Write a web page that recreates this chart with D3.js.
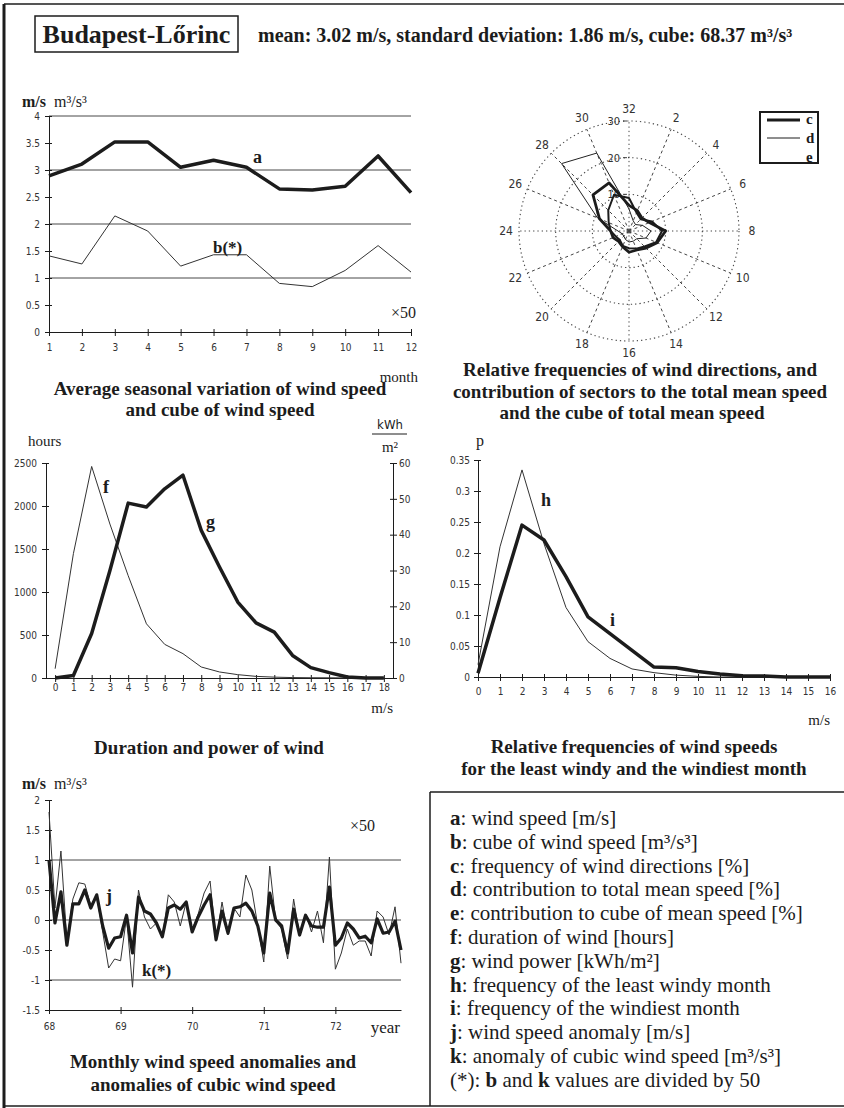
<!DOCTYPE html>
<html><head><meta charset="utf-8">
<script src="https://cdn.jsdelivr.net/npm/d3@7/dist/d3.min.js"></script>
<style>body{margin:0;background:#fff}svg{display:block}</style>
</head><body>
<svg id="chart" width="844" height="1108"></svg>
<script>
// ---------- DATA ----------
const months = [1,2,3,4,5,6,7,8,9,10,11,12];
const windSpeedA = [2.89,3.11,3.52,3.52,3.05,3.18,3.05,2.65,2.63,2.70,3.26,2.58];
const windCubeB  = [1.41,1.26,2.15,1.87,1.22,1.43,1.43,0.90,0.84,1.14,1.60,1.11];
const seasonalTicks = [0,0.5,1,1.5,2,2.5,3,3.5,4];
const seasonalGrid = [1,2,3,4];

const directions = [2,4,6,8,10,12,14,16,18,20,22,24,26,28,30,32];
const freqC    = [6,5,6,10,8.3,6.6,5.6,5.8,4.6,4,4.7,5,8.7,13.9,14.2,7];
const contribD = [3,2.5,4,6,5,3,3,3,2.5,2,2,3,9.3,26,23,6];
const contribE = [5.4,4.5,6.8,9,8,6,5.2,4.7,4.4,3.5,3.9,5,6,8,10.7,9];
const ringValues = [10,20,30];

const speedBins = [0,1,2,3,4,5,6,7,8,9,10,11,12,13,14,15,16,17,18];
const durationF = [108,1446,2460,1790,1190,630,391,283,128,70,39,19,10,5,3,2,1,0,0];
const powerG    = [0,0.7,12.4,30,48.8,47.7,52.8,56.6,41.2,31,21.2,15.4,12.8,6.3,2.9,1.5,0.3,0,0];
const hoursTicks = [0,500,1000,1500,2000,2500];
const powerTicks = [0,10,20,30,40,50,60];

const pBins = [0,1,2,3,4,5,6,7,8,9,10,11,12,13,14,15,16];
const leastWindyH = [0.02,0.21,0.334,0.215,0.112,0.057,0.03,0.013,0.007,0.003,0.001,0,0,0,0,0,0];
const windiestI   = [0.006,0.128,0.245,0.221,0.162,0.097,0.07,0.043,0.016,0.015,0.009,0.005,0.002,0.0015,0,0,0];
const pTicks = [0,0.05,0.1,0.15,0.2,0.25,0.3,0.35];

const anomalyJ = [1.0,-0.05,0.47,-0.42,0.27,0.27,0.5,0.2,0.42,-0.1,-0.47,-0.3,-0.28,0.08,-0.55,0.38,0.15,0.1,-0.05,-0.28,0.2,0.25,0.18,0.3,-0.2,0.05,0.25,0.42,-0.33,0.15,-0.22,0.2,0.22,0.28,0.15,-0.1,-0.55,0.45,0.0,-0.1,-0.55,0.18,-0.25,0.08,-0.1,-0.12,-0.12,0.55,-0.42,-0.3,-0.05,-0.15,-0.3,-0.27,-0.38,0.02,-0.22,-0.2,-0.02,-0.5];
const anomalyK = [1.8,0.2,1.15,-0.35,0.35,0.62,0.6,0.25,0.4,-0.2,-0.8,-0.65,-0.68,0.05,-1.12,0.5,0.05,-0.15,-0.05,-0.3,0.42,0.3,-0.1,0.3,-0.15,0.1,0.45,0.65,-0.35,0.3,-0.25,0.2,0.05,0.75,0.5,-0.1,-0.7,0.9,-0.02,-0.15,-0.65,0.35,-0.25,0.1,-0.2,0.15,-0.38,1.05,-0.82,-0.55,-0.15,-0.42,-0.35,-0.35,-0.6,0.15,0.05,-0.25,0.22,-0.72];
const yearTickIdx = [0,12,24,36,48];
const yearLabels = ["68","69","70","71","72"];
const anomalyTicks = [-1.5,-1,-0.5,0,0.5,1,1.5,2];
const anomalyGrid = [-1,0,1];

const legendItems = [
  [["a",1],[": wind speed [m/s]",0]],
  [["b",1],[": cube of wind speed [m³/s³]",0]],
  [["c",1],[": frequency of wind directions [%]",0]],
  [["d",1],[": contribution to total mean speed [%]",0]],
  [["e",1],[": contribution to cube of mean speed [%]",0]],
  [["f",1],[": duration of wind [hours]",0]],
  [["g",1],[": wind power [kWh/m²]",0]],
  [["h",1],[": frequency of the least windy month",0]],
  [["i",1],[": frequency of the windiest month",0]],
  [["j",1],[": wind speed anomaly [m/s]",0]],
  [["k",1],[": anomaly of cubic wind speed [m³/s³]",0]],
  [["(*): ",0],["b",1],[" and ",0],["k",1],[" values are divided by 50",0]]
];

// ---------- SETUP ----------
const svg = d3.select("#chart");
const SERIF = "'Liberation Serif','Times New Roman',serif";
const NARROW = "'Liberation Sans Narrow','Arial Narrow','DejaVu Sans Condensed',sans-serif";
const INK = "#1c1c1c";
svg.append("rect").attr("width",844).attr("height",1108).attr("fill","#fff");

function txt(x,y,s,o={}){
  return svg.append("text").attr("x",x).attr("y",y).text(s)
    .attr("font-family",o.family||SERIF).attr("font-size",o.size||16)
    .attr("font-weight",o.bold?"bold":"normal").attr("text-anchor",o.anchor||"start")
    .attr("fill",o.fill||INK);
}
function styleAxis(g){
  g.attr("font-family",NARROW).attr("font-size",10);
  g.selectAll("text").attr("fill","#333");
  g.selectAll("path,line").attr("stroke",INK).attr("stroke-width",1);
}
const fmt = d => String(d);

// frame
svg.append("line").attr("x1",4).attr("y1",4).attr("x2",844).attr("y2",4).attr("stroke",INK).attr("stroke-width",1.5);
svg.append("line").attr("x1",4).attr("y1",4).attr("x2",4).attr("y2",1108).attr("stroke",INK).attr("stroke-width",3);
svg.append("line").attr("x1",4).attr("y1",1106).attr("x2",844).attr("y2",1106).attr("stroke",INK).attr("stroke-width",1.5);

// header
svg.append("rect").attr("x",35).attr("y",16).attr("width",203).attr("height",36).attr("fill","none").attr("stroke",INK).attr("stroke-width",1.5);
txt(136.5,43,"Budapest-Lőrinc",{size:26,bold:true,anchor:"middle"});
txt(258,42,"mean: 3.02 m/s, standard deviation: 1.86 m/s, cube: 68.37 m³/s³",{size:20,bold:true});

// ---------- PANEL 1: seasonal ----------
{
  const x = d3.scaleLinear().domain([1,12]).range([49,411]);
  const y = d3.scaleLinear().domain([0,4]).range([332,116]);
  svg.append("g").selectAll("line").data(seasonalGrid).join("line")
    .attr("x1",x(1)).attr("x2",x(12)).attr("y1",d=>y(d)).attr("y2",d=>y(d))
    .attr("stroke","#333").attr("stroke-width",0.9);
  const gl = svg.append("g").attr("transform",`translate(${x(1)},0)`)
    .call(d3.axisLeft(y).tickValues(seasonalTicks).tickFormat(fmt).tickSize(4).tickSizeOuter(0).tickPadding(5));
  gl.selectAll(".tick line").attr("x1",3); styleAxis(gl);
  const gb = svg.append("g").attr("transform",`translate(0,${y(0)})`)
    .call(d3.axisBottom(x).tickValues(months).tickFormat(fmt).tickSize(4).tickSizeOuter(0).tickPadding(8));
  gb.selectAll(".tick line").attr("y1",-3); styleAxis(gb);
  const line = d3.line().x((d,i)=>x(months[i])).y(d=>y(d));
  svg.append("path").datum(windCubeB).attr("d",line).attr("fill","none").attr("stroke","#333").attr("stroke-width",1);
  svg.append("path").datum(windSpeedA).attr("d",line).attr("fill","none").attr("stroke",INK).attr("stroke-width",3.5).attr("stroke-linejoin","round");
  txt(22,107,"m/s",{size:16,bold:true});
  txt(54,107,"m³/s³",{size:16});
  txt(253,163,"a",{size:18,bold:true});
  txt(213,253,"b(*)",{size:17,bold:true});
  txt(391,318,"×50",{size:16});
  txt(418,382,"month",{size:15,anchor:"end"});
  txt(220,395,"Average seasonal variation of wind speed",{size:19,bold:true,anchor:"middle"});
  txt(220,416,"and cube of wind speed",{size:19,bold:true,anchor:"middle"});
}

// ---------- PANEL 2: wind rose ----------
{
  const cx = 629, cy = 231;
  const r = d3.scaleLinear().domain([0,30]).range([0,110]);
  const ang = d => d*Math.PI/16;
  const g = svg.append("g").attr("transform",`translate(${cx},${cy})`);
  g.selectAll("circle").data(ringValues).join("circle").attr("r",d=>r(d))
    .attr("fill","none").attr("stroke","#444").attr("stroke-width",1.1).attr("stroke-dasharray","1.3,3");
  g.selectAll("line.spoke").data(directions).join("line").attr("class","spoke")
    .attr("x1",0).attr("y1",0)
    .attr("x2",d=>r(30)*Math.sin(ang(d))).attr("y2",d=>-r(30)*Math.cos(ang(d)))
    .attr("stroke","#444").attr("stroke-width",1)
    .attr("stroke-dasharray",d=>d%8===0?"1.3,3":"3,3");
  g.selectAll("text.dir").data(directions).join("text").attr("class","dir")
    .attr("x",d=>123*Math.sin(ang(d))).attr("y",d=>-122*Math.cos(ang(d))+4)
    .attr("text-anchor","middle").attr("font-family",NARROW).attr("font-size",12).attr("fill","#333")
    .text(d=>d);
  g.selectAll("text.ring").data(ringValues).join("text").attr("class","ring")
    .attr("x",-9).attr("y",d=>-r(d)+4).attr("text-anchor","end")
    .attr("font-family",NARROW).attr("font-size",11).attr("fill","#333").text(d=>d);
  g.selectAll("line.rt").data(ringValues).join("line").attr("class","rt")
    .attr("x1",-6).attr("x2",-2).attr("y1",d=>-r(d)).attr("y2",d=>-r(d)).attr("stroke","#444");
  const rl = d3.lineRadial().angle(d=>ang(d[0])).radius(d=>r(d[1])).curve(d3.curveLinearClosed);
  const pts = arr => directions.map((d,i)=>[d,arr[i]]);
  g.append("path").datum(pts(contribE)).attr("d",rl).attr("fill","none").attr("stroke",INK).attr("stroke-width",2).attr("stroke-linejoin","round");
  g.append("path").datum(pts(contribD)).attr("d",rl).attr("fill","none").attr("stroke","#222").attr("stroke-width",1);
  g.append("path").datum(pts(freqC)).attr("d",rl).attr("fill","none").attr("stroke",INK).attr("stroke-width",2.8).attr("stroke-linejoin","round");
  // legend
  svg.append("rect").attr("x",760).attr("y",112).attr("width",58).attr("height",51).attr("fill","none").attr("stroke",INK).attr("stroke-width",2);
  svg.append("line").attr("x1",767).attr("x2",800).attr("y1",120).attr("y2",120).attr("stroke",INK).attr("stroke-width",2.8);
  svg.append("line").attr("x1",767).attr("x2",800).attr("y1",138).attr("y2",138).attr("stroke",INK).attr("stroke-width",1);
  txt(806,124,"c",{size:15,bold:true});
  txt(806,143,"d",{size:15,bold:true});
  txt(806,162,"e",{size:15,bold:true});
  txt(640,376,"Relative frequencies of wind directions, and",{size:19,bold:true,anchor:"middle"});
  txt(640,398,"contribution of sectors to the total mean speed",{size:19,bold:true,anchor:"middle"});
  txt(632,419,"and the cube of total mean speed",{size:19,bold:true,anchor:"middle"});
}

// ---------- PANEL 3: duration & power ----------
{
  const x = d3.scaleLinear().domain([-0.5,18.5]).range([46,393]);
  const yL = d3.scaleLinear().domain([0,2500]).range([678,463]);
  const yR = d3.scaleLinear().domain([0,60]).range([678,463]);
  const gl = svg.append("g").attr("transform","translate(46,0)")
    .call(d3.axisLeft(yL).tickValues(hoursTicks).tickFormat(fmt).tickSize(4).tickSizeOuter(0).tickPadding(5));
  gl.selectAll(".tick line").attr("x1",3); styleAxis(gl);
  const gr = svg.append("g").attr("transform","translate(393,0)")
    .call(d3.axisRight(yR).tickValues(powerTicks).tickFormat(fmt).tickSize(4).tickSizeOuter(0).tickPadding(2));
  gr.selectAll(".tick line").attr("x1",-3); styleAxis(gr);
  const gb = svg.append("g").attr("transform",`translate(0,${yL(0)})`)
    .call(d3.axisBottom(x).tickValues(speedBins).tickFormat(fmt).tickSize(4).tickSizeOuter(0).tickPadding(2));
  gb.selectAll(".tick line").attr("y1",-3); styleAxis(gb);
  svg.append("path").datum(durationF).attr("d",d3.line().x((d,i)=>x(speedBins[i])).y(d=>yL(d)))
    .attr("fill","none").attr("stroke","#333").attr("stroke-width",1);
  svg.append("path").datum(powerG).attr("d",d3.line().x((d,i)=>x(speedBins[i])).y(d=>yR(d)))
    .attr("fill","none").attr("stroke",INK).attr("stroke-width",3.5).attr("stroke-linejoin","round");
  txt(28,446,"hours",{size:15});
  txt(390,429,"kWh",{size:13,anchor:"middle",family:NARROW});
  svg.append("line").attr("x1",372).attr("x2",407).attr("y1",434).attr("y2",434).attr("stroke",INK);
  txt(390,452,"m²",{size:15,anchor:"middle"});
  txt(103,493,"f",{size:18,bold:true});
  txt(206,528,"g",{size:18,bold:true});
  txt(393,713,"m/s",{size:15,anchor:"end"});
  txt(209,754,"Duration and power of wind",{size:19,bold:true,anchor:"middle"});
}

// ---------- PANEL 4: relative frequency of speeds ----------
{
  const x = d3.scaleLinear().domain([0,16]).range([478,830]);
  const y = d3.scaleLinear().domain([0,0.35]).range([677,460]);
  const gl = svg.append("g").attr("transform",`translate(${x(0)},0)`)
    .call(d3.axisLeft(y).tickValues(pTicks).tickFormat(fmt).tickSize(4).tickSizeOuter(0).tickPadding(4));
  gl.selectAll(".tick line").attr("x1",3); styleAxis(gl);
  const gb = svg.append("g").attr("transform",`translate(0,${y(0)})`)
    .call(d3.axisBottom(x).tickValues(pBins).tickFormat(fmt).tickSize(4).tickSizeOuter(0).tickPadding(7));
  gb.selectAll(".tick line").attr("y1",-3); styleAxis(gb);
  const line = d3.line().x((d,i)=>x(pBins[i])).y(d=>y(d));
  svg.append("path").datum(leastWindyH).attr("d",line).attr("fill","none").attr("stroke","#333").attr("stroke-width",1);
  svg.append("path").datum(windiestI).attr("d",line).attr("fill","none").attr("stroke",INK).attr("stroke-width",3.5).attr("stroke-linejoin","round");
  txt(476,446,"p",{size:16});
  txt(541,506,"h",{size:18,bold:true});
  txt(610,626,"i",{size:18,bold:true});
  txt(830,725,"m/s",{size:15,anchor:"end"});
  txt(634,753,"Relative frequencies of wind speeds",{size:19,bold:true,anchor:"middle"});
  txt(634,775,"for the least windy and the windiest month",{size:19,bold:true,anchor:"middle"});
}

// ---------- PANEL 5: anomalies ----------
{
  const x = d3.scaleLinear().domain([0,59]).range([49,401]);
  const y = d3.scaleLinear().domain([-1.5,2]).range([1010,800]);
  svg.append("g").selectAll("line").data(anomalyGrid).join("line")
    .attr("x1",x(0)).attr("x2",x(59)).attr("y1",d=>y(d)).attr("y2",d=>y(d))
    .attr("stroke","#333").attr("stroke-width",0.9);
  const gl = svg.append("g").attr("transform",`translate(${x(0)},0)`)
    .call(d3.axisLeft(y).tickValues(anomalyTicks).tickFormat(fmt).tickSize(4).tickSizeOuter(0).tickPadding(5));
  gl.selectAll(".tick line").attr("x1",3); styleAxis(gl);
  const gb = svg.append("g").attr("transform",`translate(0,${y(-1.5)})`)
    .call(d3.axisBottom(x).tickValues(yearTickIdx).tickFormat((d,i)=>yearLabels[i]).tickSize(4).tickSizeOuter(0).tickPadding(9));
  gb.selectAll(".tick line").attr("y1",-3); styleAxis(gb);
  const line = d3.line().x((d,i)=>x(i)).y(d=>y(d));
  svg.append("path").datum(anomalyK).attr("d",line).attr("fill","none").attr("stroke","#333").attr("stroke-width",1);
  svg.append("path").datum(anomalyJ).attr("d",line).attr("fill","none").attr("stroke",INK).attr("stroke-width",3.2).attr("stroke-linejoin","round");
  txt(22,789,"m/s",{size:16,bold:true});
  txt(54,789,"m³/s³",{size:16});
  txt(350,831,"×50",{size:16});
  txt(106,902,"j",{size:18,bold:true});
  txt(142,976,"k(*)",{size:17,bold:true});
  txt(400,1033,"year",{size:17,anchor:"end"});
  txt(213,1068,"Monthly wind speed anomalies and",{size:19,bold:true,anchor:"middle"});
  txt(213,1091,"anomalies of cubic wind speed",{size:19,bold:true,anchor:"middle"});
}

// ---------- LEGEND ----------
{
  svg.append("line").attr("x1",430).attr("x2",844).attr("y1",792).attr("y2",792).attr("stroke",INK).attr("stroke-width",1.5);
  svg.append("line").attr("x1",430).attr("x2",430).attr("y1",792).attr("y2",1106).attr("stroke",INK).attr("stroke-width",1.5);
  const t = svg.append("g").selectAll("text").data(legendItems).join("text")
    .attr("x",450).attr("y",(d,i)=>825+i*23.8)
    .attr("font-family",SERIF).attr("font-size",21).attr("fill",INK);
  t.selectAll("tspan").data(d=>d).join("tspan").text(d=>d[0]).attr("font-weight",d=>d[1]?"bold":"normal");
}
</script>
</body></html>
